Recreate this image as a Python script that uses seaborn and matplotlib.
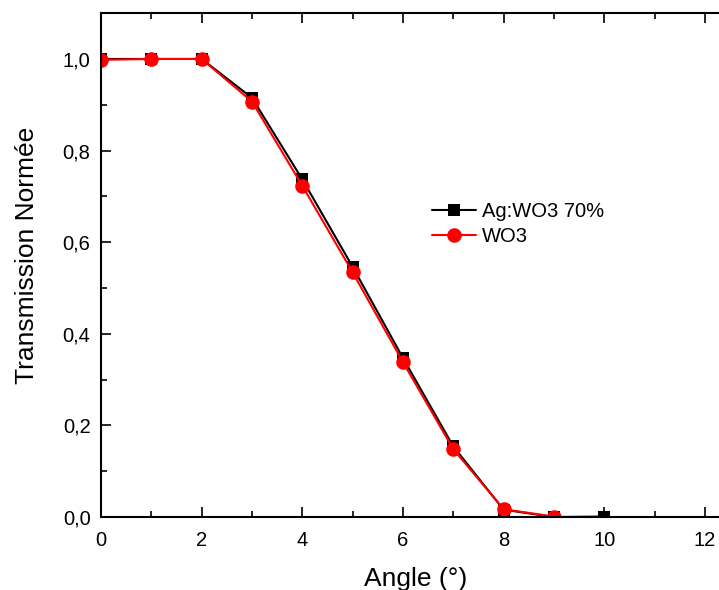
"""Normalised transmission versus angle for Ag:WO3 70% and WO3 films."""

import matplotlib

matplotlib.use("Agg")
import matplotlib.pyplot as plt
import pandas as pd
import seaborn as sns
from matplotlib.ticker import FuncFormatter, MultipleLocator

angle_ag = [0, 1, 2, 3, 4, 5, 6, 7, 8, 9, 10]
trans_ag = [1.0, 1.0, 1.0, 0.915, 0.737, 0.546, 0.347, 0.154, 0.016, 0.0, 0.001]

angle_wo3 = [0, 1, 2, 3, 4, 5, 6, 7, 8, 9]
trans_wo3 = [0.998, 1.0, 1.0, 0.907, 0.723, 0.534, 0.338, 0.148, 0.017, 0.001]

sns.set_style("ticks")
plt.rcParams["font.family"] = ["Liberation Sans", "DejaVu Sans"]
plt.rcParams["text.color"] = "black"
plt.rcParams["axes.labelcolor"] = "black"

fig = plt.figure(figsize=(7.19, 5.9), dpi=100)
ax = fig.add_axes([0.1405, 0.1237, 0.875, 0.854])

ag = pd.DataFrame({"angle": angle_ag, "trans": trans_ag})
wo3 = pd.DataFrame({"angle": angle_wo3, "trans": trans_wo3})

sns.lineplot(data=ag, x="angle", y="trans", ax=ax, color="black", linewidth=1.5,
             marker="s", markersize=8, markeredgewidth=0, label="Ag:WO3 70%")
sns.lineplot(data=wo3, x="angle", y="trans", ax=ax, color="#ff0000", linewidth=1.5,
             marker="o", markersize=10.5, markeredgewidth=0, label="WO3")

ax.set_xlim(0, 12.5)
ax.set_ylim(0, 1.1)
ax.xaxis.set_major_locator(MultipleLocator(2))
ax.xaxis.set_minor_locator(MultipleLocator(1))
ax.yaxis.set_major_locator(MultipleLocator(0.2))
ax.yaxis.set_minor_locator(MultipleLocator(0.1))
ax.yaxis.set_major_formatter(FuncFormatter(lambda v, _: f"{v:.1f}".replace(".", ",")))

ax.tick_params(which="both", direction="in", top=True, right=False, width=1.2,
               labelsize=14.5, colors="black")
ax.tick_params(which="major", length=7)
ax.tick_params(which="minor", length=4)
ax.tick_params(axis="x", which="major", pad=10)
ax.tick_params(axis="y", which="major", pad=7.5)
for side in ["left", "bottom", "top"]:
    ax.spines[side].set_linewidth(1.5)
    ax.spines[side].set_color("black")
ax.spines["right"].set_visible(False)

ax.set_xlabel("Angle (°)", fontsize=19, labelpad=12, color="black")
ax.set_ylabel("Transmission Normée", fontsize=19, color="black")
ax.yaxis.set_label_coords(-0.098, 0.52)

leg = ax.legend(loc="upper left", bbox_to_anchor=(0.526, 0.626), frameon=False,
                fontsize=14.5, handlelength=2.2, handletextpad=0.3, labelspacing=0.3,
                borderpad=0, borderaxespad=0)
for text in leg.get_texts():
    text.set_color("black")

fig.savefig("out.png", dpi=100)
